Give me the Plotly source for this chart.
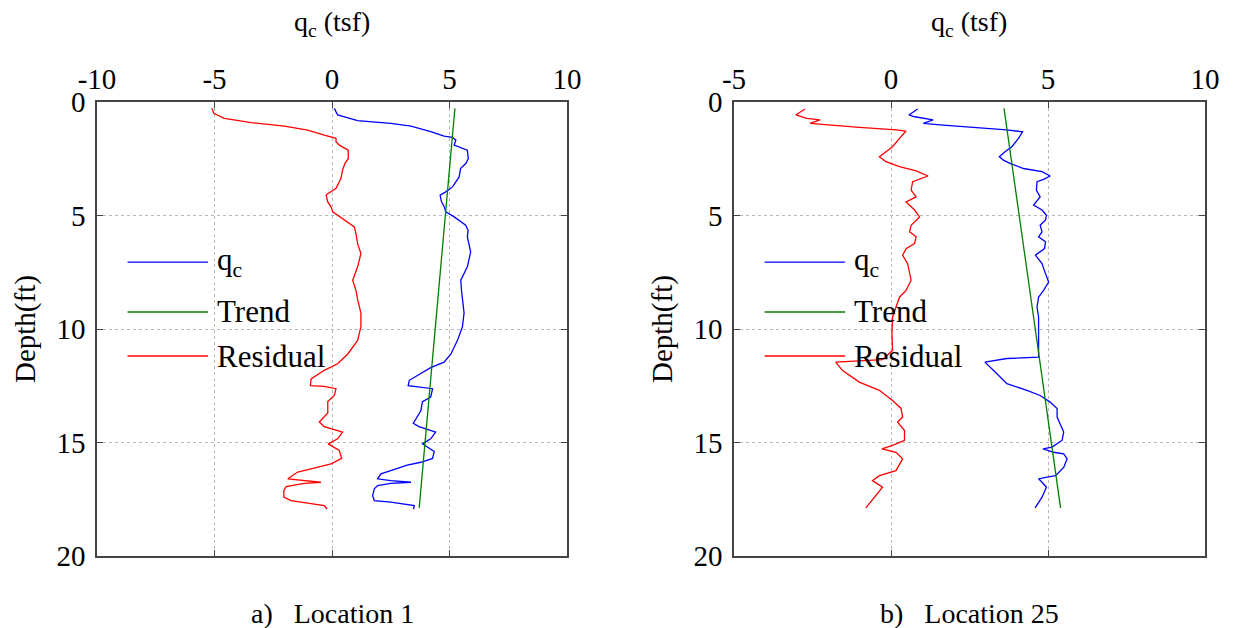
import plotly.graph_objects as go

# ---------------- Location 1 ----------------
loc1_qc_depth = [0.28, 0.57, 0.82, 0.94, 1.06, 1.30, 1.50, 1.56, 1.68, 1.90, 2.12, 2.50, 2.70, 2.93,
                 3.30, 3.74, 3.96, 4.10, 4.40, 4.60, 4.84, 5.06, 5.43, 5.65, 5.94, 6.60, 7.26, 7.85,
                 8.30, 8.70, 9.30, 9.90, 10.50, 11.10, 11.46, 11.70, 11.97, 12.26, 12.50, 12.56,
                 12.63, 13.00, 13.20, 13.60, 14.15, 14.30, 14.54, 14.84, 15.06, 15.40, 15.70, 15.87,
                 16.00, 16.24, 16.38, 16.60, 16.68, 16.75, 16.80, 16.90, 17.04, 17.34, 17.56, 17.63,
                 17.74, 17.78, 17.93]
loc1_qc = [0.10, 0.24, 1.09, 2.50, 3.36, 4.20, 4.77, 5.13, 5.27, 5.20, 5.76, 5.80, 5.70, 5.47,
           5.41, 5.13, 4.84, 4.60, 4.66, 4.77, 4.84, 5.20, 5.69, 5.79, 5.76, 5.90, 5.76, 5.48,
           5.51, 5.55, 5.62, 5.55, 5.34, 5.06, 4.77, 4.20, 3.78, 3.29, 3.24, 3.78,
           4.28, 4.20, 3.85, 3.78, 3.46, 3.70, 4.41, 4.20, 3.85, 4.35, 4.28, 3.78,
           3.20, 2.50, 2.08, 1.94, 2.50, 3.36, 2.50, 1.94, 1.80, 1.73, 1.80, 2.50,
           3.36, 3.50, 3.47]

loc1_trend_depth = [0.28, 17.88]
loc1_trend = [5.23, 3.71]

loc1_res_depth = [0.28, 0.50, 0.72, 0.91, 1.06, 1.24, 1.46, 1.56, 1.60, 1.75, 1.90, 2.12, 2.50, 2.70,
                  3.00, 3.37, 3.80, 4.03, 4.10, 4.40, 4.62, 4.84, 5.20, 5.50, 5.80, 6.24, 6.68, 7.26,
                  7.85, 8.30, 8.70, 9.30, 9.90, 10.50, 11.10, 11.53, 11.82, 12.20, 12.50, 12.53,
                  12.63, 12.93, 13.20, 13.70, 14.10, 14.30, 14.54, 14.84, 15.06, 15.35, 15.70, 15.94,
                  16.16, 16.30, 16.60, 16.68, 16.75, 16.80, 16.94, 17.12, 17.41, 17.56, 17.66, 17.78,
                  17.93]
loc1_res = [-5.11, -5.03, -4.58, -3.44, -2.03, -1.03, -0.33, -0.01, 0.17, 0.17, 0.31, 0.69, 0.69, 0.55,
            0.45, 0.38, 0.17, -0.16, -0.25, -0.18, -0.04, 0.03, 0.52, 0.95, 1.02, 1.09, 1.23, 1.09,
            0.88, 1.02, 1.09, 1.23, 1.23, 1.09, 0.67, 0.24, -0.33, -0.89, -0.92, -0.33,
            0.17, 0.10, -0.18, -0.18, -0.54, -0.33, 0.45, 0.24, -0.16, 0.31, 0.41, -0.04,
            -0.89, -1.46, -1.88, -1.18, -0.47, -1.18, -1.95, -2.05, -2.05, -1.74, -1.03, -0.33,
            -0.21]

# ---------------- Location 25 ----------------
loc25_qc_depth = [0.31, 0.57, 0.65, 0.75, 0.79, 0.94, 1.01, 1.23, 1.31, 1.60, 1.97, 2.19, 2.41,
                  2.56, 2.70, 2.93, 3.07, 3.26, 3.41, 3.51, 3.88, 4.18, 4.54, 4.76, 4.99, 5.20,
                  5.43, 5.72, 5.94, 6.16, 6.46, 6.75, 7.12, 7.56, 7.93, 8.30, 8.60, 9.03, 9.47,
                  10.20, 10.80, 11.24, 11.30, 11.46, 11.82, 12.41, 12.70, 12.93, 13.22, 13.50,
                  13.88, 14.54, 14.90, 15.20, 15.28, 15.43, 15.50, 15.72, 16.10, 16.46, 16.53,
                  16.60, 16.75, 16.97, 17.41, 17.88]
loc25_qc = [0.85, 0.57, 0.76, 1.24, 1.34, 1.03, 1.56, 3.68, 4.19, 4.06, 3.85, 3.63, 3.45,
            3.58, 3.79, 4.22, 4.81, 5.07, 4.86, 4.65, 4.63, 4.75, 4.54, 4.81, 4.95, 4.92,
            4.75, 4.81, 4.70, 4.92, 4.89, 4.60, 4.81, 4.92, 5.02, 4.86, 4.70, 4.65, 4.70,
            4.70, 4.70, 4.70, 3.69, 2.99, 3.26, 3.69, 4.33, 4.75, 5.07, 5.29,
            5.29, 5.50, 5.45, 5.13, 4.84, 5.18, 5.50, 5.61, 5.50, 5.24, 4.97,
            4.70, 4.81, 4.95, 4.81, 4.59]

loc25_trend_depth = [0.28, 17.88]
loc25_trend = [3.60, 5.40]

loc25_res_depth = [0.31, 0.57, 0.72, 0.79, 0.94, 1.01, 1.12, 1.23, 1.28, 1.60, 1.97, 2.41, 2.63,
                   2.85, 3.03, 3.26, 3.51, 3.88, 4.18, 4.40, 4.76, 5.06, 5.43, 5.72, 5.94, 6.24,
                   6.46, 6.75, 7.12, 7.85, 8.30, 8.60, 9.03, 9.47, 10.20, 10.94, 11.35, 11.46,
                   11.82, 12.34, 12.70, 13.15, 13.50, 13.88, 14.10, 14.47, 14.90, 15.13, 15.28,
                   15.43, 15.72, 15.94, 16.24, 16.46, 16.68, 16.97, 17.34, 17.88]
loc25_res = [-2.74, -3.03, -2.68, -2.26, -2.58, -2.05, -1.01, 0.18, 0.48, 0.27, 0.05, -0.37, -0.16,
             0.27, 0.80, 1.18, 0.69, 0.64, 0.80, 0.48, 0.75, 0.91, 0.64, 0.59, 0.80, 0.75,
             0.48, 0.37, 0.53, 0.64, 0.48, 0.27, 0.16, 0.05, 0.03, 0.05, -0.27, -1.76,
             -1.55, -1.01, -0.37, 0.05, 0.32, 0.37, 0.21, 0.43, 0.43, 0.05, -0.29,
             0.16, 0.37, 0.27, 0.16, -0.37, -0.59, -0.27, -0.48, -0.80]

# ---------------- labels ----------------
series_names = ["q<sub>c</sub>", "Trend", "Residual"]
series_colors = ["#0000ff", "#008000", "#ff0000"]
depth_ticks = [0, 5, 10, 15, 20]
loc1_xticks = [-10, -5, 0, 5, 10]
loc1_xticklabels = ["-10", "-5", "0", "5", "10"]
loc25_xticks = [-5, 0, 5, 10]
loc25_xticklabels = ["-5", "0", "5", "10"]
x_title = "q<sub>c</sub> (tsf)"
y_title = "Depth(ft)"
captions = ["a)\u00a0\u00a0 Location 1", "b)\u00a0\u00a0 Location 25"]

FONT = "Liberation Serif, Times New Roman, serif"
W, H = 1239, 628

fig = go.Figure()

panels = [
    ("x", "y", (loc1_qc_depth, loc1_qc), (loc1_trend_depth, loc1_trend), (loc1_res_depth, loc1_res)),
    ("x2", "y2", (loc25_qc_depth, loc25_qc), (loc25_trend_depth, loc25_trend), (loc25_res_depth, loc25_res)),
]
for xa, ya, qc, tr, rs in panels:
    for (d, v), name, col in zip([qc, tr, rs], series_names, series_colors):
        fig.add_trace(go.Scatter(x=v, y=d, mode="lines", name=name, xaxis=xa, yaxis=ya,
                                 line=dict(color=col, width=1.3), showlegend=False))

# pixel geometry of the two axes boxes
box_left = (97, 567)
box_right = (734, 1205)
box_top, box_bottom = 102, 556
ydom = [1 - box_bottom / H, 1 - box_top / H]

axis_common = dict(
    side="top", ticks="inside", ticklen=6, tickcolor="#444", tickwidth=1.2,
    showline=True, linecolor="#444", linewidth=1.5, mirror="allticks",
    showgrid=True, gridcolor="#b8b8b8", griddash="dot", gridwidth=1, zeroline=False,
    tickfont=dict(family=FONT, size=29, color="black"),
)
yaxis_common = dict(
    range=[20, 0], tickvals=depth_ticks, ticks="inside", ticklen=6, tickcolor="#444", tickwidth=1.2,
    showline=True, linecolor="#444", linewidth=1.5, mirror="allticks",
    showgrid=True, gridcolor="#b8b8b8", griddash="dot", gridwidth=1, zeroline=False,
    tickfont=dict(family=FONT, size=29, color="black"), ticklabelstandoff=4,
)

fig.update_layout(
    width=W, height=H, margin=dict(l=0, r=0, t=0, b=0, autoexpand=False),
    plot_bgcolor="white", paper_bgcolor="white", showlegend=False,
    xaxis=dict(domain=[box_left[0] / W, box_left[1] / W], range=[-10, 10], tickvals=loc1_xticks,
               ticktext=loc1_xticklabels, anchor="y", **axis_common),
    yaxis=dict(domain=ydom, anchor="x", **yaxis_common),
    xaxis2=dict(domain=[box_right[0] / W, box_right[1] / W], range=[-5, 10], tickvals=loc25_xticks,
                ticktext=loc25_xticklabels, anchor="y2", **axis_common),
    yaxis2=dict(domain=ydom, anchor="x2", **yaxis_common),
)

annotations = []
shapes = []
for (bx0, bx1), xa, ya, cap in [(box_left, "x", "y", captions[0]), (box_right, "x2", "y2", captions[1])]:
    cx = (bx0 + bx1) / 2 / W
    # axis titles
    annotations.append(dict(text=x_title, x=cx, y=1 - 24 / H, xref="paper", yref="paper",
                            showarrow=False, font=dict(family=FONT, size=28, color="black"),
                            xanchor="center", yanchor="middle"))
    annotations.append(dict(text=y_title, x=(bx0 - 71) / W, y=sum(ydom) / 2, xref="paper", yref="paper",
                            textangle=-90, showarrow=False,
                            font=dict(family=FONT, size=29, color="black"),
                            xanchor="center", yanchor="middle"))
    annotations.append(dict(text=cap, x=cx, y=1 - 613 / H, xref="paper", yref="paper",
                            showarrow=False, font=dict(family=FONT, size=28, color="black"),
                            xanchor="center", yanchor="middle"))
    # legend drawn inside each axes box
    for name, col, row_depth in zip(series_names, series_colors, [7.05, 9.25, 11.19]):
        shapes.append(dict(type="line", xref=f"{xa} domain", yref=ya, x0=0.065, x1=0.236,
                           y0=row_depth, y1=row_depth, line=dict(color=col, width=1.3)))
        annotations.append(dict(text=name, xref=f"{xa} domain", yref=ya, x=0.25, y=row_depth,
                                showarrow=False, xanchor="left", yanchor="middle",
                                font=dict(family=FONT, size=31, color="black")))

fig.update_layout(annotations=annotations, shapes=shapes)
fig.write_html("out.html")
